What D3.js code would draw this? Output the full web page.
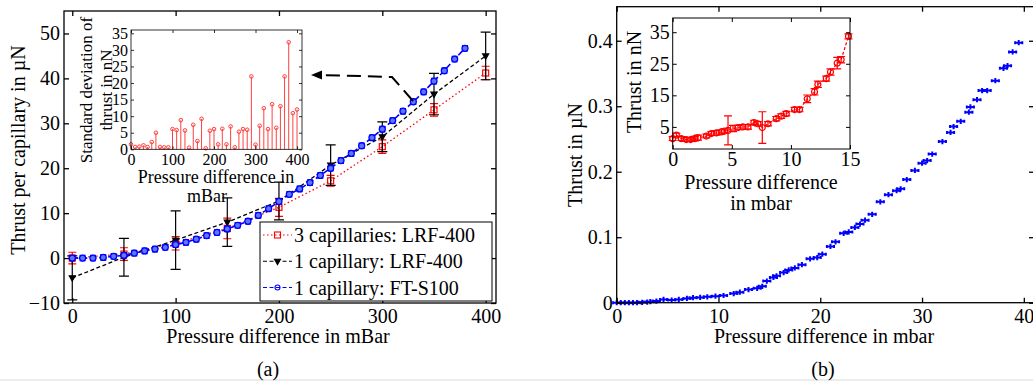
<!DOCTYPE html>
<html>
<head>
<meta charset="utf-8">
<script src="https://cdn.jsdelivr.net/npm/d3@7"></script>
<style>
  body { margin: 0; background: #fff; }
  svg { display: block; }
</style>
</head>
<body>
<div id="chart"></div>
<script>
const WIDTH = 1033;
const HEIGHT = 381;
const SERIF = "'Liberation Serif', 'Times New Roman', 'DejaVu Serif', serif";

// ---- panel (a): thrust per capillary ----
const aPressure = [0, 50, 100, 150, 200, 250, 300, 350, 400];
const aThrust3LRF = [0, 0.9, 3.3, 6.6, 11.3, 17.2, 24.8, 33.0, 41.2];
const aErr3LRF = [1.3, 1.4, 1.5, 2.3, 2.0, 1.2, 1.5, 1.4, 1.5];
const aThrust1LRF = [-4.4, 0.2, 4.0, 8.0, 12.7, 20.7, 27.0, 36.5, 45.0];
const aErr1LRF = [4.9, 4.2, 6.5, 5.4, 4.2, 4.5, 3.3, 4.6, 5.3];
const aPressureFT = [0, 10, 20, 30, 40, 50, 60, 70, 80, 90, 100, 110, 120, 130, 140, 150, 160, 170, 180, 190,
  200, 210, 220, 230, 240, 250, 260, 270, 280, 290, 300, 310, 320, 330, 340, 350, 360, 370, 380];
const aThrustFT = [0, 0, 0, 0.15, 0.4, 0.6, 1.1, 1.6, 2.0, 2.4, 3.0, 3.5, 4.2, 5.0, 5.7, 6.5, 7.3, 8.2, 9.5, 11.0,
  12.6, 14.2, 15.4, 16.8, 18.4, 20.0, 21.7, 23.3, 25.0, 26.8, 28.7, 30.6, 32.7, 34.8, 37.0, 39.4, 41.7, 44.3, 46.7];
const aErrFT = 0.6;
const aXTicks = [0, 100, 200, 300, 400];
const aYTicks = [-10, 0, 10, 20, 30, 40, 50];
const legendLabels = ["3 capillaries: LRF-400", "1 capillary: LRF-400", "1 capillary: FT-S100"];

// inset of (a): standard deviation
const stdPressure = [0, 10, 20, 30, 40, 50, 60, 70, 80, 90, 100, 110, 120, 130, 140, 150, 160, 170, 180, 190, 200,
  210, 220, 230, 240, 250, 260, 270, 280, 290, 300, 310, 320, 330, 340, 350, 360, 370, 380, 390, 400];
const stdValues = [1.5, 0.7, 0.8, 1.2, 0.7, 2.2, 5.0, 0.7, 0.6, 0.6, 6.1, 5.8, 8.8, 5.7, 0.5, 7.4, 2.5, 9.2, 0.3, 5.6, 6.1,
  1.5, 6.2, 1.5, 6.9, 0.6, 5.3, 6.1, 5.9, 22.0, 1.4, 7.1, 12.4, 6.1, 13.6, 6.5, 13.0, 22.0, 32.3, 10.9, 12.0];
const stdXTicks = [0, 100, 200, 300, 400];
const stdYTicks = [0, 5, 10, 15, 20, 25, 30, 35];

// ---- panel (b): single capillary, low pressure ----
const bPressure = [0, 0.4, 0.8, 1.2, 1.6, 2.0, 2.5, 3.0, 3.3, 3.9, 4.6, 5.4, 6.1, 6.9, 7.5, 8.2, 8.9, 9.7, 10.5,
  11.5, 12.1, 12.95, 13.8, 14.3, 14.75, 15.4, 15.7, 16.4, 16.9, 17.5, 18.2, 19.0, 19.7, 20.2, 21.0, 21.5, 22.3,
  22.8, 23.4, 23.9, 24.4, 25.1, 25.9, 26.7, 27.5, 27.9, 28.5, 29.3, 30.0, 30.5, 31.0, 32.0, 32.8, 33.1, 33.8,
  34.6, 34.75, 35.4, 35.9, 36.4, 37.2, 38.0, 38.4, 38.9, 39.5];
const bThrust = [0, 0, 0, 0, 0, 0, 0.0005, 0.001, 0.0015, 0.0025, 0.005, 0.004, 0.005, 0.0066, 0.0076, 0.008,
  0.009, 0.010, 0.011, 0.014, 0.016, 0.020, 0.022, 0.025, 0.033, 0.0386, 0.041, 0.046, 0.050, 0.053, 0.058,
  0.067, 0.069, 0.074, 0.086, 0.093, 0.106, 0.108, 0.115, 0.120, 0.126, 0.135, 0.154, 0.165, 0.171, 0.174,
  0.188, 0.202, 0.213, 0.217, 0.227, 0.246, 0.260, 0.269, 0.277, 0.291, 0.299, 0.310, 0.324, 0.324, 0.339,
  0.358, 0.362, 0.383, 0.397];
const bXErr = 0.35;
const bYErr = 0.004;
const bXTicks = [0, 10, 20, 30, 40];
const bYTicks = [0, 0.1, 0.2, 0.3, 0.4];

// inset of (b): thrust in nN up to 15 mbar
const cPressure = [0, 0.31, 0.73, 1.15, 1.52, 1.86, 2.14, 2.85, 3.27, 3.69, 4.11, 4.39, 4.68, 5.1, 5.52, 5.94,
  6.37, 6.87, 7.21, 7.58, 8.06, 8.76, 9.18, 9.61, 10.31, 10.73, 11.38, 12.0, 12.28, 12.99, 13.35, 13.92, 14.25, 14.87];
const cThrust = [1.3, 2.4, 1.3, 1.0, 1.0, 1.3, 1.6, 2.1, 2.9, 3.1, 3.4, 3.7, 3.9, 4.5, 4.8, 5.0,
  5.0, 6.4, 6.0, 4.8, 6.0, 7.6, 8.4, 9.2, 10.5, 10.5, 13.9, 16.1, 18.5, 20.3, 22.4, 25.2, 26.3, 33.7];
const cErr = [0.6, 0.6, 0.6, 0.6, 0.6, 0.7, 0.8, 0.6, 0.6, 0.7, 0.7, 0.7, 4.6, 1.0, 0.7, 0.7,
  0.7, 0.7, 0.7, 5.0, 0.7, 0.7, 0.7, 0.7, 0.7, 0.7, 1.2, 1.0, 1.0, 0.8, 1.0, 1.8, 1.0, 0.8];
const cXTicks = [0, 5, 10, 15];
const cYTicks = [5, 15, 25, 35];

const svg = d3.select("#chart").append("svg")
  .attr("width", WIDTH)
  .attr("height", HEIGHT)
  .attr("viewBox", [0, 0, WIDTH, HEIGHT])
  .style("font-family", SERIF);

svg.append("rect").attr("width", WIDTH).attr("height", HEIGHT).attr("fill", "#fff");
svg.append("rect").attr("x", 0).attr("y", HEIGHT - 2).attr("width", WIDTH).attr("height", 2).attr("fill", "#ececec");

// MATLAB style box: axes on all four sides, ticks pointing inward
function drawBox(g, x, y, o) {
  const [x0, x1] = x.range();
  const [y0, y1] = y.range();
  g.append("rect")
    .attr("x", x0).attr("y", y1)
    .attr("width", x1 - x0).attr("height", y0 - y1)
    .attr("fill", o.fill || "none")
    .attr("stroke", "#000")
    .attr("stroke-width", o.lw);

  const axes = [
    [d3.axisBottom(x).tickValues(o.xTicks), `translate(0,${y0})`, true, o.xPad],
    [d3.axisTop(x).tickValues(o.xTicks), `translate(0,${y1})`, false, 0],
    [d3.axisLeft(y).tickValues(o.yTicks), `translate(${x0},0)`, true, o.yPad],
    [d3.axisRight(y).tickValues(o.yTicks), `translate(${x1},0)`, false, 0],
  ];
  axes.forEach(([axis, tr, labels, pad]) => {
    axis.tickSizeInner(-o.tick).tickSizeOuter(0).tickPadding(pad);
    if (!labels) axis.tickFormat("");
    else if (o.fmt) axis.tickFormat(o.fmt);
    const a = g.append("g").attr("transform", tr).call(axis);
    a.select(".domain").remove();
    a.selectAll(".tick line").attr("stroke", "#000").attr("stroke-width", o.lw);
    a.selectAll("text")
      .attr("fill", "#000")
      .attr("font-family", SERIF)
      .attr("font-size", o.fs);
    a.attr("font-family", null).attr("font-size", null);
  });
}

function rotatedLabel(g, text, cx, cy, fs) {
  g.append("text")
    .attr("transform", `translate(${cx},${cy}) rotate(-90)`)
    .attr("dy", "0.35em")
    .attr("text-anchor", "middle")
    .attr("font-size", fs)
    .text(text);
}

function errorBars(g, x, y, xs, ys, errs, color, cap, lw) {
  const e = (i) => (Array.isArray(errs) ? errs[i] : errs);
  const eb = g.append("g").attr("stroke", color).attr("stroke-width", lw).attr("fill", "none");
  xs.forEach((px, i) => {
    const cx = x(px);
    const top = y(ys[i] + e(i));
    const bot = y(ys[i] - e(i));
    eb.append("path").attr("d", `M${cx},${top}V${bot}M${cx - cap},${top}H${cx + cap}M${cx - cap},${bot}H${cx + cap}`);
  });
}

function marker(sel, type, size) {
  if (type === "square") {
    return sel.append("rect").attr("x", -size / 2).attr("y", -size / 2).attr("width", size).attr("height", size);
  }
  if (type === "tri") {
    return sel.append("path").attr("d", `M${-size / 2},${-size / 3}L${size / 2},${-size / 3}L0,${size * 0.55}Z`);
  }
  return sel.append("circle").attr("r", size / 2);
}

function series(g, x, y, xs, ys, o) {
  const line = d3.line().x((d) => x(d[0])).y((d) => y(d[1]));
  const pts = xs.map((v, i) => [v, ys[i]]);
  if (o.err !== undefined) errorBars(g, x, y, xs, ys, o.err, o.color, o.cap, 1.2);
  g.append("path")
    .attr("d", line(pts))
    .attr("fill", "none")
    .attr("stroke", o.color)
    .attr("stroke-width", o.lw)
    .attr("stroke-dasharray", o.dash);
  g.append("g").selectAll("g").data(pts).join("g")
    .attr("transform", (d) => `translate(${x(d[0])},${y(d[1])})`)
    .each(function () {
      marker(d3.select(this), o.marker, o.size)
        .attr("fill", o.mfill || "none")
        .attr("stroke", o.color)
        .attr("stroke-width", o.mlw || 1.2);
    });
}

// ================= panel (a) =================
const ax = d3.scaleLinear().domain([-8, 410]).range([64, 496]);
const ay = d3.scaleLinear().domain([-10, 55]).range([303, 11]);
const ga = svg.append("g");

series(ga, ax, ay, aPressure, aThrust3LRF, { color: "#ff0000", dash: "1.5,2.5", lw: 1.3, marker: "square", size: 6, err: aErr3LRF, cap: 4 });
series(ga, ax, ay, aPressure, aThrust1LRF, { color: "#000", dash: "4,2.5", lw: 1.3, marker: "tri", size: 6, mfill: "#000", err: aErr1LRF, cap: 5 });
series(ga, ax, ay, aPressureFT, aThrustFT, { color: "#0000ff", dash: "6,3", lw: 1.6, marker: "circle", size: 6, mfill: "#5a78ff", mlw: 1.3, err: aErrFT, cap: 3 });

drawBox(ga, ax, ay, { xTicks: aXTicks, yTicks: aYTicks, tick: 5, lw: 1.3, fs: 20, xPad: 6, yPad: 4 });

ga.append("text").attr("x", 278).attr("y", 343).attr("text-anchor", "middle").attr("font-size", 20)
  .text("Pressure difference in mBar");
rotatedLabel(ga, "Thrust per capillary in \u00b5N", 18, 150, 20);
ga.append("text").attr("x", 268).attr("y", 376).attr("text-anchor", "middle").attr("font-size", 20).text("(a)");

// inset of (a)
const sx = d3.scaleLinear().domain([0, 412]).range([131, 302]);
const sy = d3.scaleLinear().domain([0, 36]).range([149.3, 30]);
const gs = svg.append("g");
gs.append("rect").attr("x", 131).attr("y", 30).attr("width", 171).attr("height", 119.3).attr("fill", "#fff");
const stems = gs.append("g").selectAll("g").data(stdPressure.map((p, i) => [p, stdValues[i]])).join("g");
stems.append("line")
  .attr("x1", (d) => sx(d[0])).attr("x2", (d) => sx(d[0]))
  .attr("y1", sy(0)).attr("y2", (d) => sy(d[1]))
  .attr("stroke", "#ff4040").attr("stroke-width", 1);
stems.append("circle")
  .attr("cx", (d) => sx(d[0])).attr("cy", (d) => sy(d[1])).attr("r", 1.8)
  .attr("fill", "none").attr("stroke", "#ff4040").attr("stroke-width", 1);
drawBox(gs, sx, sy, { xTicks: stdXTicks, yTicks: stdYTicks, tick: 3, lw: 0.8, fs: 16, xPad: 4, yPad: 3 });
rotatedLabel(gs, "Standard deviation of", 86, 90, 17);
rotatedLabel(gs, "thrust in nN", 106, 90, 17);
gs.append("text").attr("x", 216).attr("y", 183).attr("text-anchor", "middle").attr("font-size", 18).text("Pressure difference in");
gs.append("text").attr("x", 207).attr("y", 202).attr("text-anchor", "middle").attr("font-size", 18).text("mBar");

// legend
const lg = svg.append("g");
lg.append("rect").attr("x", 260).attr("y", 222).attr("width", 232).attr("height", 79)
  .attr("fill", "#fff").attr("stroke", "#000").attr("stroke-width", 1);
const legendStyles = [
  { color: "#ff0000", dash: "1.5,2.5", marker: "square", size: 6, mfill: "none" },
  { color: "#000", dash: "4,2.5", marker: "tri", size: 6, mfill: "#000" },
  { color: "#0000ff", dash: "4,2.5", marker: "circle", size: 5, mfill: "none" },
];
const legendRow = d3.scalePoint().domain(legendLabels).range([235, 287.5]);
legendLabels.forEach((label, i) => {
  const st = legendStyles[i];
  const yy = legendRow(label);
  lg.append("line").attr("x1", 263).attr("x2", 292).attr("y1", yy).attr("y2", yy)
    .attr("stroke", st.color).attr("stroke-width", 1.2).attr("stroke-dasharray", st.dash);
  marker(lg.append("g").attr("transform", `translate(277.5,${yy})`), st.marker, st.size)
    .attr("fill", st.mfill).attr("stroke", st.color).attr("stroke-width", 1.1);
  lg.append("text").attr("x", 294).attr("y", yy).attr("dy", "0.35em").attr("font-size", 20).text(label);
});

// dashed arrow pointing to the inset
svg.append("path")
  .attr("d", "M413,101L392,77L321,75")
  .attr("fill", "none").attr("stroke", "#000").attr("stroke-width", 2).attr("stroke-dasharray", "14,7");
svg.append("path").attr("d", "M311,75L322,70.5L322,79.5Z").attr("fill", "#000");

// ================= panel (b) =================
const bx = d3.scaleLinear().domain([0, 41]).range([616.7, 1034]);
const by = d3.scaleLinear().domain([0, 0.452]).range([302.7, 6.7]);
const gb = svg.append("g");

const bPts = gb.append("g").attr("stroke", "#0000ff").attr("stroke-width", 2).attr("fill", "none");
bPressure.forEach((p, i) => {
  const cx = bx(p), cy = by(bThrust[i]);
  const xl = bx(p - bXErr), xr = bx(p + bXErr);
  const yt = by(bThrust[i] + bYErr), yb = by(bThrust[i] - bYErr);
  bPts.append("path").attr("d", `M${xl},${cy}H${xr}M${cx},${yt}V${yb}M${xl},${cy - 1.5}V${cy + 1.5}M${xr},${cy - 1.5}V${cy + 1.5}`);
});

drawBox(gb, bx, by, { xTicks: bXTicks, yTicks: bYTicks, tick: 5, lw: 1.3, fs: 20, xPad: 6, yPad: 4, fmt: (d) => String(d) });
gb.append("text").attr("x", 824).attr("y", 343).attr("text-anchor", "middle").attr("font-size", 20)
  .text("Pressure difference in mbar");
rotatedLabel(gb, "Thrust in \u00b5N", 575, 155, 20);
gb.append("text").attr("x", 823).attr("y", 376).attr("text-anchor", "middle").attr("font-size", 20).text("(b)");

// inset of (b)
const cx = d3.scaleLinear().domain([0, 15]).range([672.7, 850]);
const cy = d3.scaleLinear().domain([-2, 39.5]).range([149, 18]);
const gc = svg.append("g");
gc.append("rect").attr("x", 672.7).attr("y", 18).attr("width", 177.3).attr("height", 131).attr("fill", "#fff");
series(gc, cx, cy, cPressure, cThrust, { color: "#ff0000", dash: "3,2", lw: 1.2, marker: "circle", size: 6, err: cErr, cap: 4 });
drawBox(gc, cx, cy, { xTicks: cXTicks, yTicks: cYTicks, tick: 4, lw: 1, fs: 20, xPad: 3, yPad: 3 });
rotatedLabel(gc, "Thrust in nN", 634, 82, 20);
gc.append("text").attr("x", 761).attr("y", 189).attr("text-anchor", "middle").attr("font-size", 20).text("Pressure difference");
gc.append("text").attr("x", 761).attr("y", 210).attr("text-anchor", "middle").attr("font-size", 20).text("in mbar");
</script>
</body>
</html>
